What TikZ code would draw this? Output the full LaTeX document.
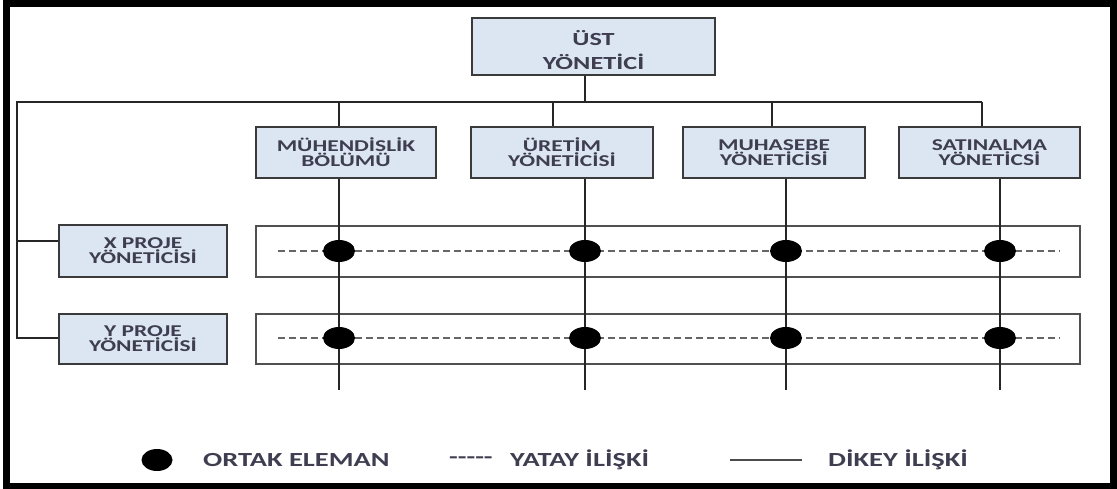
\documentclass[tikz,border=0pt]{standalone}
\usepackage{fontspec}
\newfontfamily\lblfont[FakeStretch=1.42]{Carlito}
\usetikzlibrary{shapes.geometric}
\definecolor{boxfill}{HTML}{DCE6F2}
\definecolor{boxline}{HTML}{3A3A3A}
\definecolor{rowline}{HTML}{505050}
\definecolor{txt}{HTML}{3E3E50}
\begin{document}
\begin{tikzpicture}[x=1pt,y=-1pt,
  orgbox/.style={draw=boxline, line width=2pt, fill=boxfill, inner sep=0pt,
    align=center, text=txt, font=\lblfont\bfseries\fontsize{16.5}{15}\selectfont},
  toptext/.style={inner sep=0pt, align=center, text=txt,
    font=\lblfont\bfseries\fontsize{18.5}{24}\selectfont},
  rowbox/.style={draw=rowline, line width=1.8pt, inner sep=0pt},
  conn/.style={draw=black!85, line width=2pt},
  hdash/.style={draw=black!60, line width=1.3pt, dash pattern=on 7pt off 4pt},
  member/.style={ellipse, fill=black, minimum width=32pt, minimum height=22pt, inner sep=0pt},
  legend/.style={anchor=west, inner sep=0pt, text=txt,
    font=\lblfont\bfseries\fontsize{20}{20}\selectfont}]
\useasboundingbox (0,0) rectangle (1117,489);

% outer frame
\draw[line width=7pt] (6,3.5) rectangle (1113,486);

% top manager
\node[orgbox, minimum width=243pt, minimum height=57pt] (top) at (593.5,46.5) {};
\node[toptext] (topT) at (593.5,50) {ÜST\\YÖNETİCİ};

% department managers
\node[orgbox, minimum width=180pt, minimum height=51pt] (mh) at (346,152.5) {MÜHENDİSLİK\\BÖLÜMÜ};
\node[orgbox, minimum width=182pt, minimum height=51pt] (ur) at (562,152.5) {ÜRETİM\\YÖNETİCİSİ};
\node[orgbox, minimum width=182pt, minimum height=51pt] (mu) at (774,152.5) {MUHASEBE\\YÖNETİCİSİ};
\node[orgbox, minimum width=181pt, minimum height=51pt] (sa) at (989.5,152.5) {SATINALMA\\YÖNETİCSİ};

% project managers
\node[orgbox, minimum width=168pt, minimum height=52pt] (xp) at (143,251) {X PROJE\\YÖNETİCİSİ};
\node[orgbox, minimum width=168pt, minimum height=50pt] (yp) at (143,339) {Y PROJE\\YÖNETİCİSİ};

% project rows
\node[rowbox, minimum width=824pt, minimum height=51pt] (row1) at (668,251.5) {};
\node[rowbox, minimum width=824pt, minimum height=50pt] (row2) at (668,339) {};

% bus lines
\coordinate (busL) at (17,102);
\coordinate (busR) at (982,102);
\coordinate (busTop) at (585,102);
\coordinate (jx) at (17,241);
\coordinate (jy) at (17,338);
\coordinate (dMh) at (339,102);
\coordinate (dUr) at (553,102);
\coordinate (dMu) at (772,102);
\draw[conn] (top.south -| busTop) -- (busTop);
\draw[conn] (busR) -- (busL) -- (jy) -- (jy -| yp.west);
\draw[conn] (jx) -- (jx -| xp.west);
\draw[conn] (dMh) -- (dMh |- mh.north);
\draw[conn] (dUr) -- (dUr |- ur.north);
\draw[conn] (dMu) -- (dMu |- mu.north);
\draw[conn] (busR) -- (busR |- sa.north);

% horizontal (project) relations
\coordinate (h1L) at (278,251);
\coordinate (h1R) at (1060,251);
\coordinate (h2L) at (278,338);
\coordinate (h2R) at (1060,338);
\draw[hdash] (h1L) -- (h1R);
\draw[hdash] (h2L) -- (h2R);

% vertical (functional) relations
\coordinate (vMh) at (339,390);
\coordinate (vUr) at (585,390);
\coordinate (vMu) at (786,390);
\coordinate (vSa) at (1000,390);
\draw[conn] (vMh |- mh.south) -- (vMh);
\draw[conn] (vUr |- ur.south) -- (vUr);
\draw[conn] (vMu |- mu.south) -- (vMu);
\draw[conn] (vSa |- sa.south) -- (vSa);

% shared members
\foreach \cx/\nm in {339/a,585/b,786/c,1000/d}{
  \node[member] (m1\nm) at (\cx,251) {};
  \node[member] (m2\nm) at (\cx,338) {};
}

% legend
\node[member, minimum width=31pt] (lgDot) at (157,460) {};
\node[legend] (lgDotT) at (203,460) {ORTAK ELEMAN};
\node[legend] (lgDash) at (449,460) {-----};
\node[legend] (lgDashT) at (510,460) {YATAY İLİŞKİ};
\coordinate (lgL) at (730,460);
\coordinate (lgR) at (802,460);
\draw[draw=black!70, line width=2pt] (lgL) -- (lgR);
\node[legend] (lgLineT) at (828,460) {DİKEY İLİŞKİ};
\end{tikzpicture}
\end{document}
